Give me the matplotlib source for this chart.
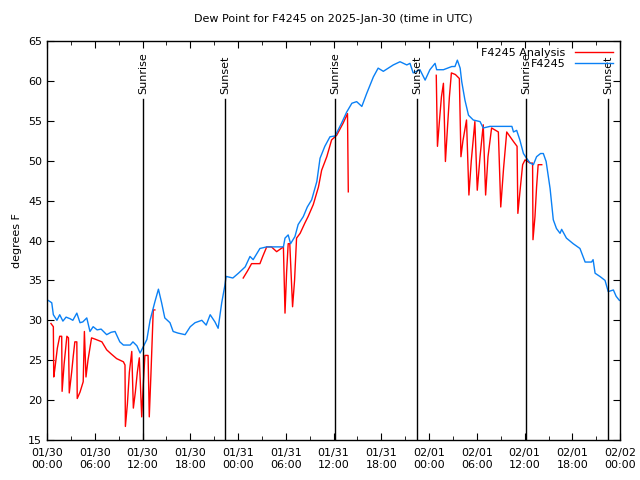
import numpy as np
import pandas as pd
import matplotlib
matplotlib.use("Agg")
import matplotlib.pyplot as plt
import matplotlib.dates as mdates

start = pd.Timestamp("2025-01-30 00:00")
end = pd.Timestamp("2025-02-02 00:00")

# observed dew point (hours after start, degF)
obs_hours = [0.0, 0.15, 0.6, 0.8, 1.25, 1.6, 2.0, 2.4, 2.9, 3.25, 3.75, 4.15, 4.5, 5.0,
             5.4, 5.8, 6.3, 6.8, 7.5, 8.05, 8.55, 9.15, 9.6, 10.45, 10.8, 11.3, 11.7,
             12.1, 12.55, 12.95, 13.55, 14.0, 14.4, 14.8, 15.45, 15.85, 16.45, 17.35,
             18.0, 18.6, 19.45, 20.0, 20.5, 21.1, 21.5, 21.95, 22.35, 22.5, 23.35,
             24.05, 24.9, 25.5, 25.9, 26.75, 27.6, 29.7, 29.9, 30.3, 30.6, 31.15,
             31.55, 32.2, 32.7, 33.25, 33.9, 34.3, 34.9, 35.55, 36.2, 37.0, 37.65,
             38.3, 38.9, 39.55, 40.15, 41.0, 41.6, 42.25, 43.5, 44.35, 45.2, 45.6,
             46.0, 46.85, 47.5, 48.1, 48.75, 48.95, 49.8, 50.85, 51.25, 51.55, 51.9,
             52.1, 52.5, 52.95, 53.55, 54.4, 54.8, 55.65, 58.4, 58.6, 59.0, 59.4,
             59.85, 60.25, 60.7, 61.1, 61.5, 62.0, 62.35, 62.7, 63.2, 63.6, 64.0,
             64.45, 64.65, 65.25, 66.1, 66.95, 67.6, 68.4, 68.6, 68.85, 69.45, 70.1,
             70.5, 71.15, 71.5, 71.9]
obs_vals = [32.5, 32.5, 32.2, 30.7, 30.0, 30.7, 29.9, 30.4, 30.2, 30.0, 30.9, 29.7, 29.8, 30.3,
            28.6, 29.2, 28.8, 28.9, 28.2, 28.5, 28.6, 27.3, 26.9, 26.9, 27.3, 26.8, 25.9,
            26.7, 27.6, 30.0, 32.3, 33.9, 32.2, 30.3, 29.7, 28.6, 28.4, 28.2,
            29.2, 29.7, 30.0, 29.4, 30.7, 29.8, 29.0, 32.2, 34.4, 35.5, 35.3,
            35.9, 36.7, 38.0, 37.6, 39.0, 39.2, 39.2, 40.3, 40.7, 39.6, 40.5,
            42.0, 43.0, 44.2, 45.1, 47.4, 50.3, 51.8, 53.0, 53.1, 54.7, 56.1,
            57.2, 57.4, 56.8, 58.4, 60.5, 61.6, 61.2, 62.0, 62.4, 62.0, 62.2,
            61.0, 61.4, 60.1, 61.4, 62.2, 61.4, 61.4, 61.8, 61.8, 62.6, 61.6,
            59.9, 57.6, 55.7, 55.1, 54.9, 54.1, 54.3, 54.3, 53.6, 53.8, 52.6,
            50.9, 50.3, 49.7, 49.5, 50.5, 50.9, 50.9, 49.9, 46.5, 42.6, 41.5,
            40.9, 41.4, 40.3, 39.6, 39.0, 37.3, 37.3, 37.6, 35.9, 35.5, 35.0,
            33.6, 33.8, 33.0, 32.5]

# analysis dew point, NaN marks gaps
ana_hours = [0.5, 0.8, 0.85, 1.0, 1.3, 1.6, 1.85, 1.9, 2.15, 2.5, 2.7, 2.8, 3.1, 3.3, 3.5,
             3.75, 3.8, 4.15, 4.55, 4.7, 4.9, 5.15, 5.6, 6.15, 6.9, 7.5, 8.05, 8.75, 9.6,
             9.8, 9.85, 10.1, 10.35, 10.65, 10.85, 11.1, 11.35, 11.6, 11.9, 12.1, 12.3,
             12.7, 12.85, 13.05, 13.35, 13.55,
             20.0,
             24.65, 25.2, 25.7, 26.75, 27.1, 27.6, 28.2, 28.85, 29.7, 29.9, 30.1, 30.3,
             30.5, 30.85, 31.1, 31.35, 31.8, 32.4, 32.8, 33.45, 34.1, 34.5, 35.15, 35.75,
             36.4, 37.2, 37.75, 37.85,
             43.0,
             48.9, 49.05, 49.3, 49.55, 49.8, 50.05, 50.3, 50.55, 50.8, 51.3, 51.8, 52.0,
             52.25, 52.7, 53.0, 53.3, 53.75, 54.05, 54.4, 54.8, 55.1, 55.4, 55.85, 56.7,
             57.0, 57.35, 57.75, 58.6, 59.05, 59.15, 59.4, 59.75, 60.05, 60.7, 61.0,
             61.05, 61.3, 61.5, 61.7, 62.15]
ana_vals = [29.6, 29.2, 22.9, 24.0, 26.5, 28.0, 28.0, 21.1, 24.5, 28.0, 27.8, 20.9, 23.5, 25.5, 27.3,
            27.3, 20.2, 21.0, 22.3, 28.6, 22.9, 25.0, 27.8, 27.6, 27.3, 26.3, 25.8, 25.2, 24.8,
            24.4, 16.7, 19.5, 23.5, 26.1, 19.0, 21.0, 23.5, 25.3, 17.9, 22.0, 25.6,
            25.6, 17.9, 23.0, 31.3, 31.3,
            np.nan,
            35.3, 36.2, 37.1, 37.1, 38.0, 39.2, 39.2, 38.6, 39.2, 30.9, 36.0, 39.6,
            39.6, 31.7, 35.0, 40.3, 40.9, 42.2, 43.0, 44.5, 46.7, 48.8, 50.5, 52.6,
            53.2, 54.7, 55.9, 46.1,
            np.nan,
            60.7, 51.8, 55.0, 58.0, 59.7, 49.9, 54.0, 58.0, 61.0, 60.8, 60.3, 50.5,
            52.5, 55.1, 45.7, 50.0, 54.9, 46.3, 50.5, 54.5, 45.7, 50.5, 54.1, 53.6,
            44.2, 49.0, 53.6, 52.4, 51.8, 43.4, 46.0, 49.5, 50.1, 49.7, 49.7,
            40.1, 43.0, 46.7, 49.5, 49.5]

sun_times = ["2025-01-30 12:04", "2025-01-30 22:22", "2025-01-31 12:11",
             "2025-01-31 22:29", "2025-02-01 12:11", "2025-02-01 22:30"]
sun_labels = ["Sunrise", "Sunset", "Sunrise", "Sunset", "Sunrise", "Sunset"]

obs_t = start + pd.to_timedelta(obs_hours, unit="h")
ana_t = start + pd.to_timedelta(ana_hours, unit="h")

plt.rcParams["font.family"] = "DejaVu Sans"
fig = plt.figure(figsize=(6.4, 4.8), dpi=100)
ax = fig.add_axes([0.0734, 0.0833, 0.8956, 0.8313])

ax.plot(ana_t, ana_vals, color="#ff0000", lw=1.0, label="F4245 Analysis")
ax.plot(obs_t, obs_vals, color="#0a80f5", lw=1.0, label="F4245")

for t, lab in zip(sun_times, sun_labels):
    t = pd.Timestamp(t)
    ax.plot([t, t], [15, 57.7], color="black", lw=1.0)
    ax.text(t, 58.4, lab, rotation=90, ha="center", va="bottom", fontsize=8)

ax.set_xlim(start, end)
ax.set_ylim(15, 65)
ax.set_yticks(np.arange(15, 66, 5))
ax.xaxis.set_major_locator(mdates.HourLocator(byhour=[0, 6, 12, 18]))
ax.xaxis.set_minor_locator(mdates.HourLocator(byhour=[3, 9, 15, 21]))
ax.xaxis.set_major_formatter(mdates.DateFormatter("%m/%d\n%H:%M"))
ax.tick_params(which="both", direction="in", top=True, right=True, labelsize=8)
ax.tick_params(which="major", length=5)
ax.tick_params(which="minor", length=3)
ax.tick_params(axis="x", pad=6)
for s in ax.spines.values():
    s.set_linewidth(1.0)

ax.set_ylabel("degrees F", fontsize=8)
ax.set_title("Dew Point for F4245 on 2025-Jan-30 (time in UTC)", fontsize=8, pad=14)

leg = ax.legend(loc="upper right", frameon=False, fontsize=8, markerfirst=False,
                handlelength=3.5, borderaxespad=0.2, labelspacing=0.1)
for txt in leg.get_texts():
    txt.set_ha("right")

fig.savefig("out.png", dpi=100)
